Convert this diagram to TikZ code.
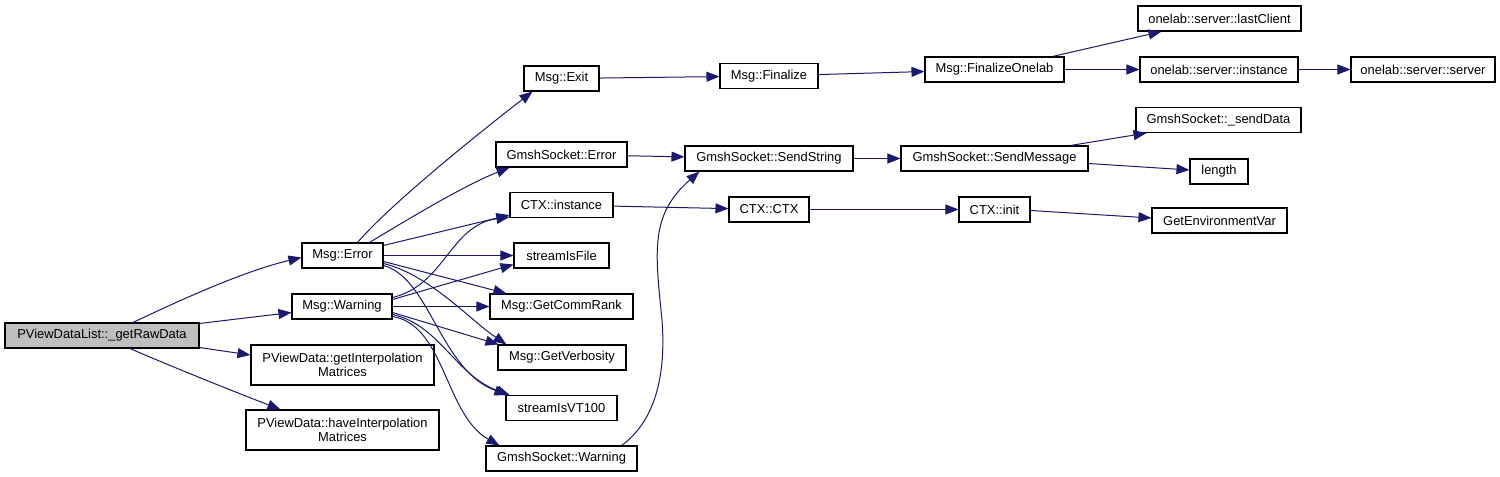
\documentclass[tikz,border=0pt]{standalone}
\usepackage{fontspec}
\setmainfont{Liberation Sans}
\usetikzlibrary{arrows.meta,calc}
\definecolor{edgec}{RGB}{25,25,112}
\definecolor{rootfill}{RGB}{191,191,191}
\begin{document}
\begin{tikzpicture}[x=0.75pt,y=-0.75pt,
  box/.style={draw=black,line width=0.8pt,rectangle,inner sep=0pt,
    minimum height=18.75pt,font=\fontsize{9.7}{10.5}\selectfont,align=center},
  bw/.style={minimum width={#1*0.75pt}},
  tall/.style={minimum height=30pt},
  root/.style={fill=rootfill},
  call/.style={draw=edgec,line width=0.75pt,-{Triangle[length=9.75pt,width=7.5pt]}}]
\useasboundingbox (0,0) rectangle (1500,477);

% nodes
\node[box,root,bw=194] (raw) at (102,335.5) {PViewDataList::\_getRawData};
\node[box,bw=81] (err) at (342.5,255.5) {Msg::Error};
\node[box,bw=100] (warn) at (342,306.5) {Msg::Warning};
\node[box,tall,bw=183] (getI) at (342.5,365) {PViewData::getInterpolation\\Matrices};
\node[box,tall,bw=193] (haveI) at (342.5,430) {PViewData::haveInterpolation\\Matrices};
\node[box,bw=75] (exit) at (561.5,78.5) {Msg::Exit};
\node[box,bw=98] (fin) at (769,76) {Msg::Finalize};
\node[box,bw=131] (gerr) at (561.5,154.5) {GmshSocket::Error};
\node[box,bw=168] (sstr) at (769,158.5) {GmshSocket::SendString};
\node[box,bw=103] (ctxi) at (561.5,205) {CTX::instance};
\node[box,bw=80] (ctx) at (769,209.5) {CTX::CTX};
\node[box,bw=95] (sif) at (561.5,255.5) {streamIsFile};
\node[box,bw=143] (gcr) at (561.5,306.5) {Msg::GetCommRank};
\node[box,bw=128] (gv) at (562,357.5) {Msg::GetVerbosity};
\node[box,bw=111] (vt) at (561.5,408) {streamIsVT100};
\node[box,bw=151] (gw) at (561.5,458.5) {GmshSocket::Warning};
\node[box,bw=139] (fol) at (994.5,69.5) {Msg::FinalizeOnelab};
\node[box,bw=163] (lc) at (1219.5,18.5) {onelab::server::lastClient};
\node[box,bw=158] (inst) at (1219,69.5) {onelab::server::instance};
\node[box,bw=144] (srv) at (1423,69.5) {onelab::server::server};
\node[box,bw=165] (sd) at (1218.5,120) {GmshSocket::\_sendData};
\node[box,bw=187] (smsg) at (994.5,158.5) {GmshSocket::SendMessage};
\node[box,bw=58] (len) at (1219,171.5) {length};
\node[box,bw=71] (init) at (994.5,209.5) {CTX::init};
\node[box,bw=135] (gev) at (1219.5,220.5) {GetEnvironmentVar};

% edges from root
\draw[call] ($(raw.north)+(31,0)$) .. controls (170,305) and (240,272) .. ($(err.west)+(0,2)$);
\draw[call] ($(raw.north east)+(0,1)$) -- ($(warn.west)+(0,6)$);
\draw[call] ($(raw.south east)+(0,-1)$) -- ($(getI.west)+(0,-10)$);
\draw[call] ($(raw.south)+(28,0)$) .. controls (175,368) and (235,392) .. ($(haveI.north)+(-62,0)$);

% edges from Msg::Error
\draw[call] ($(err.north)+(15,0)$) .. controls (390,205) and (470,140) .. ($(exit.south west)+(9,0)$);
\draw[call] ($(err.north)+(27,0)$) .. controls (410,218) and (465,185) .. ($(gerr.south west)+(14,0)$);
\draw[call] ($(err.north east)+(0,3)$) -- ($(ctxi.south west)+(0,-3)$);
\draw[call] (err.east) -- (sif.west);
\draw[call] ($(err.east)+(0,6)$) -- ($(gcr.north west)+(17,0)$);
\draw[call] ($(err.east)+(0,8)$) .. controls (430,275) and (470,320) .. ($(gv.north west)+(9,0)$);
\draw[call] ($(err.east)+(0,10)$) .. controls (430,278) and (440,370) .. ($(vt.north west)+(2,0)$);

% edges from Msg::Warning
\draw[call] ($(warn.east)+(0,-9)$) .. controls (445,285) and (450,225) .. ($(ctxi.south west)+(0,-1)$);
\draw[call] ($(warn.east)+(0,-7)$) -- ($(sif.west)+(0,9)$);
\draw[call] (warn.east) -- (gcr.west);
\draw[call] ($(warn.east)+(0,6)$) -- ($(gv.north west)+(1,0)$);
\draw[call] ($(warn.east)+(0,8)$) .. controls (440,325) and (455,375) .. ($(vt.north west)+(4,0)$);
\draw[call] ($(warn.east)+(0,10)$) .. controls (445,325) and (445,415) .. ($(gw.north west)+(14,0)$);

% other edges
\draw[call] (exit) -- (fin);
\draw[call] (fin) -- (fol);
\draw[call] ($(fol.north east)+(-12,0)$) -- ($(lc.south west)+(24,0)$);
\draw[call] (fol) -- (inst);
\draw[call] (inst) -- (srv);
\draw[call] (gerr) -- (sstr);
\draw[call] ($(gw.north east)+(-16,0)$) .. controls (650,425) and (667,385) .. (662,320)
   .. controls (655,250) and (650,215) .. ($(sstr.south west)+(15,0)$);
\draw[call] (sstr) -- (smsg);
\draw[call] ($(smsg.north east)+(-18,0)$) -- ($(sd.south west)+(11,0)$);
\draw[call] ($(smsg.east)+(0,5)$) -- ($(len.west)+(0,-1.5)$);
\draw[call] (ctxi) -- (ctx);
\draw[call] (ctx) -- (init);
\draw[call] ($(init.east)+(0,1)$) -- ($(gev.west)+(0,-2.5)$);
\end{tikzpicture}
\end{document}
